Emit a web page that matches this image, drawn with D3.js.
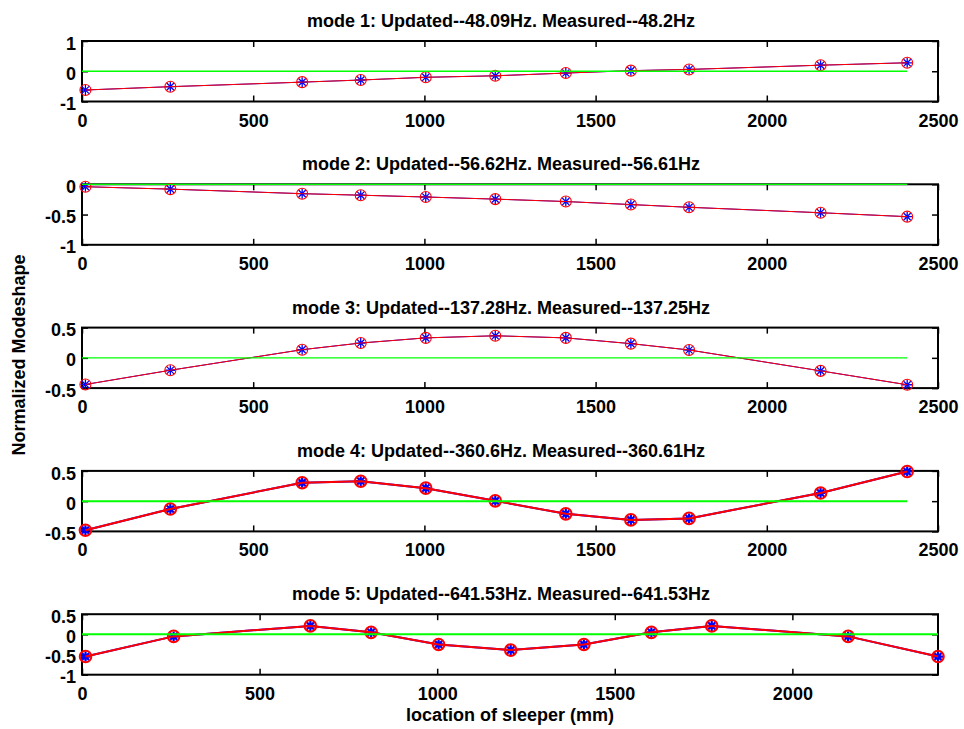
<!DOCTYPE html>
<html lang="en">
  <head>
    <meta charset="utf-8">
    <title>Normalized Modeshape</title>
    <script src="https://d3js.org/d3.v7.min.js"></script>
    <style type="text/css">
      body { margin: 0; background-color: #ffffff; }
      text { font-family: "Liberation Sans", Arial, sans-serif; font-weight: bold; fill: #000; }
      .tick text { font-size: 18px; }
    </style>
  </head>
  <body>
    <div id="my_dataviz"></div>

    <script>

    // sleeper locations (mm)
    var sleeperX = [10, 258, 643, 814, 1004, 1207, 1413, 1603, 1773, 2157, 2410];

    // updated (model) modeshapes - blue stars
    var updated1 = [-0.62, -0.51, -0.36, -0.29, -0.20, -0.15, -0.06, 0.02, 0.06, 0.20, 0.28];
    var updated2 = [-0.04, -0.08, -0.155, -0.18, -0.21, -0.245, -0.285, -0.335, -0.38, -0.47, -0.535];
    var updated3 = [-0.44, -0.205, 0.135, 0.245, 0.33, 0.365, 0.33, 0.235, 0.13, -0.215, -0.445];
    var updated4 = [-0.48, -0.13, 0.305, 0.33, 0.215, 0.005, -0.21, -0.31, -0.285, 0.135, 0.49];
    var updated5 = [-0.55, -0.05, 0.21, 0.05, -0.25, -0.39, -0.25, 0.05, 0.21, -0.05, -0.55];

    // measured modeshapes - red circles
    var measured1 = [-0.62, -0.51, -0.36, -0.29, -0.20, -0.15, -0.06, 0.02, 0.06, 0.20, 0.28];
    var measured2 = [-0.04, -0.08, -0.155, -0.18, -0.21, -0.245, -0.285, -0.335, -0.38, -0.47, -0.535];
    var measured3 = [-0.44, -0.205, 0.135, 0.245, 0.33, 0.365, 0.33, 0.235, 0.13, -0.215, -0.445];
    var measured4 = [-0.48, -0.13, 0.305, 0.33, 0.215, 0.005, -0.21, -0.31, -0.285, 0.135, 0.49];
    var measured5 = [-0.55, -0.05, 0.21, 0.05, -0.25, -0.39, -0.25, 0.05, 0.21, -0.05, -0.55];

    var titles = [
      "mode 1: Updated--48.09Hz. Measured--48.2Hz",
      "mode 2: Updated--56.62Hz. Measured--56.61Hz",
      "mode 3: Updated--137.28Hz. Measured--137.25Hz",
      "mode 4: Updated--360.6Hz. Measured--360.61Hz",
      "mode 5: Updated--641.53Hz. Measured--641.53Hz"
    ];

    // axis limits and tick labels
    var yLimits = [[-1, 1], [-1, 0], [-0.5, 0.5], [-0.5, 0.5], [-1, 0.5]];
    var yTicks = [[-1, 0, 1], [-1, -0.5, 0], [-0.5, 0, 0.5], [-0.5, 0, 0.5], [-1, -0.5, 0, 0.5]];
    var xLimits = [[0, 2500], [0, 2500], [0, 2500], [0, 2500], [0, 2410]];
    var xTicks = [
      [0, 500, 1000, 1500, 2000, 2500],
      [0, 500, 1000, 1500, 2000, 2500],
      [0, 500, 1000, 1500, 2000, 2500],
      [0, 500, 1000, 1500, 2000, 2500],
      [0, 500, 1000, 1500, 2000]
    ];

    var updatedAll = [updated1, updated2, updated3, updated4, updated5];
    var measuredAll = [measured1, measured2, measured3, measured4, measured5];

    // line width of each subplot (modes 4 and 5 were drawn thicker)
    var lineW = [1, 1, 1, 2, 2];

    var W = 964, H = 729;
    var left = 82, right = 938, panelH = 60.5, firstTop = 41, step = 143.3;

    var svg = d3.select("#my_dataviz")
      .append("svg")
        .attr("width", W)
        .attr("height", H);

    svg.append("rect").attr("width", W).attr("height", H).attr("fill", "#fff");

    function asterisk(s) {
      var d = s * 0.72;
      return "M" + (-s) + ",0L" + s + ",0M0," + (-s) + "L0," + s +
             "M" + (-d) + "," + (-d) + "L" + d + "," + d +
             "M" + (-d) + "," + d + "L" + d + "," + (-d);
    }

    titles.forEach(function(title, i) {
      var top = firstTop + i * step;
      var thick = lineW[i] > 1;

      var x = d3.scaleLinear().domain(xLimits[i]).range([left, right]);
      var y = d3.scaleLinear().domain(yLimits[i]).range([top + panelH, top]);

      var g = svg.append("g");

      // axes box
      g.append("rect")
        .attr("x", left).attr("y", top)
        .attr("width", right - left).attr("height", panelH)
        .attr("fill", "none")
        .attr("stroke", "#000")
        .attr("stroke-width", 2);

      var fmt = function(d) { return String(d); };

      var xb = g.append("g")
        .attr("transform", "translate(0," + (top + panelH) + ")")
        .call(d3.axisBottom(x).tickValues(xTicks[i]).tickFormat(fmt)
          .tickSizeInner(-6).tickSizeOuter(0).tickPadding(8));
      var xt = g.append("g")
        .attr("transform", "translate(0," + top + ")")
        .call(d3.axisTop(x).tickValues(xTicks[i]).tickFormat("")
          .tickSizeInner(-6).tickSizeOuter(0));
      var yl = g.append("g")
        .attr("transform", "translate(" + left + ",0)")
        .call(d3.axisLeft(y).tickValues(yTicks[i]).tickFormat(fmt)
          .tickSizeInner(-6).tickSizeOuter(0).tickPadding(6));
      var yr = g.append("g")
        .attr("transform", "translate(" + right + ",0)")
        .call(d3.axisRight(y).tickValues(yTicks[i]).tickFormat("")
          .tickSizeInner(-6).tickSizeOuter(0));

      [xb, xt, yl, yr].forEach(function(a) {
        a.select(".domain").remove();
        a.selectAll(".tick line").attr("stroke", "#000").attr("stroke-width", 1.5);
        a.selectAll(".tick text").attr("font-family", null).attr("font-size", null);
      });
      xb.selectAll(".tick text").attr("dy", "0.95em");
      yl.selectAll(".tick text").attr("dy", "0.45em");

      // title
      g.append("text")
        .attr("x", (left + right) / 2 - 9)
        .attr("y", top - 14)
        .attr("text-anchor", "middle")
        .attr("font-size", "18px")
        .text(title);

      var upd = sleeperX.map(function(d, k) { return [d, updatedAll[i][k]]; });
      var mea = sleeperX.map(function(d, k) { return [d, measuredAll[i][k]]; });
      var line = d3.line().x(function(d) { return x(d[0]); }).y(function(d) { return y(d[1]); });

      // updated: blue line + stars
      g.append("path")
        .datum(upd)
        .attr("d", line)
        .attr("fill", "none")
        .attr("stroke", "#0000ff")
        .attr("stroke-width", lineW[i]);
      g.selectAll(".star")
        .data(upd)
        .enter()
        .append("path")
          .attr("transform", function(d) { return "translate(" + x(d[0]) + "," + y(d[1]) + ")"; })
          .attr("d", asterisk(thick ? 5 : 5))
          .attr("fill", "none")
          .attr("stroke", "#0000ff")
          .attr("stroke-width", thick ? 2.2 : 1.3);

      // measured: red line + circles
      g.append("path")
        .datum(mea)
        .attr("d", line)
        .attr("fill", "none")
        .attr("stroke", "#ff0000")
        .attr("stroke-width", lineW[i]);
      g.selectAll(".circ")
        .data(mea)
        .enter()
        .append("circle")
          .attr("cx", function(d) { return x(d[0]); })
          .attr("cy", function(d) { return y(d[1]); })
          .attr("r", thick ? 5.8 : 5.5)
          .attr("fill", "none")
          .attr("stroke", "#ff0000")
          .attr("stroke-width", thick ? 2 : 1.1);

      // zero line
      g.append("path")
        .datum([[0, 0], [sleeperX[sleeperX.length - 1], 0]])
        .attr("d", line)
        .attr("stroke", "#00ff00")
        .attr("stroke-width", thick ? 2 : 1.3);
    });

    // axis labels
    svg.append("text")
      .attr("transform", "translate(25,355) rotate(-90)")
      .attr("text-anchor", "middle")
      .attr("font-size", "18px")
      .text("Normalized Modeshape");

    svg.append("text")
      .attr("x", (left + right) / 2)
      .attr("y", 721)
      .attr("text-anchor", "middle")
      .attr("font-size", "18px")
      .text("location of sleeper (mm)");

    </script>
  </body>
</html>
